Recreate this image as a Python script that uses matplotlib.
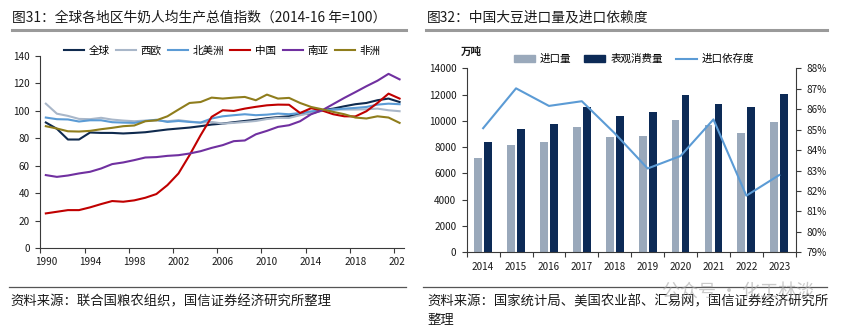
import matplotlib
matplotlib.use("Agg")
import matplotlib.pyplot as plt
from matplotlib.lines import Line2D
from matplotlib.patches import Patch
from matplotlib.transforms import Bbox
import numpy as np

plt.rcParams['font.family'] = ['Noto Sans CJK SC', 'DejaVu Sans']
plt.rcParams['axes.unicode_minus'] = False

# ---------------- data: milk production index (2014-16 = 100) ----------------
years = list(range(1990, 2023))
world = [91.6, 87, 79.2, 79.2, 84.3, 84, 84, 83.6, 84, 84.5, 85.5,
         86.5, 87.2, 87.9, 88.9, 90.1, 90.8, 91.8, 92.7, 93.6, 94.7,
         95.5, 96.1, 97.6, 98.1, 100.5, 101.7, 103.4, 104.9, 105.8, 107.8,
         109, 106.5]
w_europe = [105.3, 98, 96.4, 94.2, 94, 95, 93.7, 93, 92.5, 93, 93,
            92.5, 93.3, 92.3, 91.5, 92, 90.8, 91.3, 92, 92.7, 94.1,
            95, 94.9, 96.9, 98.5, 100, 101, 101, 101, 101.2, 101.7,
            100.5, 99.8]
n_america = [95.2, 94, 93.8, 92.3, 93.2, 93.2, 91.8, 91.5, 91.3, 92.7, 93.6,
             92, 92.7, 92, 91.5, 94.5, 96.1, 96.9, 97.6, 96.9, 97.3,
             98.1, 97.6, 98.5, 99.7, 100.5, 101, 101.7, 102.2, 102.9, 104.6,
             105.3, 104.9]
china = [25.4, 26.6, 27.8, 27.8, 29.8, 32.2, 34.4, 33.9, 34.9, 36.8, 39.5,
         46, 54.5, 67.8, 82.3, 95.7, 100.5, 100, 101.7, 103, 104.1,
         104.6, 104.5, 98.5, 102, 100.3, 97.6, 96.1, 96, 99.8, 105.8,
         112.6, 109]
s_asia = [53.3, 52, 53, 54.5, 55.7, 58.1, 61.3, 62.5, 64.2, 66.1, 66.4,
          67.3, 67.8, 69, 70.7, 73.1, 75.1, 78, 78.5, 83, 85.5,
          88.4, 89.6, 92.5, 97.6, 100.5, 105, 109.5, 113.7, 118, 122,
          127, 123]
africa = [88.9, 87.2, 85.2, 85, 85.5, 86.7, 87.7, 88.9, 89.4, 92.5, 93.2,
          96.1, 101, 105.8, 106.5, 109.7, 109, 109.7, 110.2, 107.8, 111.9,
          109, 109.5, 105.8, 102.9, 101.2, 99.3, 97.6, 95.2, 94.5, 96.1,
          95.2, 91.3]
region_names = ['全球', '西欧', '北美洲', '中国', '南亚', '非洲']
region_colors = ['#0f2a4e', '#a9b7c9', '#5b9bd5', '#c00000', '#7030a0', '#8f7d1c']

# ---------------- data: soybean imports and dependence ----------------
soy_years = ['2014', '2015', '2016', '2017', '2018', '2019', '2020', '2021', '2022', '2023']
imports = [7140, 8169, 8391, 9553, 8803, 8851, 10033, 9652, 9108, 9941]
consumption = [8370, 9382, 9739, 11033, 10348, 10652, 11969, 11261, 11056, 12022]
dependence = [85.07, 87.02, 86.16, 86.39, 84.82, 83.1, 83.71, 85.5, 81.77, 82.78]

W, H = 848, 328
fig = plt.figure(figsize=(W / 100, H / 100), dpi=100)

def fx(px):
    return px / W

def fy(py):
    return 1 - py / H

axis_color = '#3a3a3a'
text_color = '#1a1a1a'
tick_fs = 7.2

# ---------------- headers and footers ----------------
fig.text(fx(12), fy(17), '图31：全球各地区牛奶人均生产总值指数（2014-16 年=100）',
         fontsize=9.9, color=text_color, va='center', ha='left')
fig.text(fx(427), fy(17), '图32：中国大豆进口量及进口依赖度',
         fontsize=9.9, color=text_color, va='center', ha='left')
for x0, x1 in [(12, 406), (426, 827)]:
    fig.add_artist(Line2D([fx(x0), fx(x1)], [fy(30), fy(30)], color='#9a9a9a', lw=2.2))
    fig.add_artist(Line2D([fx(x0 - 3), fx(x1)], [fy(287), fy(287)], color='#555555', lw=0.9))
fig.text(fx(10), fy(301), '资料来源：联合国粮农组织，国信证券经济研究所整理',
         fontsize=9.6, color=text_color, va='center', ha='left')
fig.text(fx(427), fy(301), '资料来源：国家统计局、美国农业部、汇易网，国信证券经济研究所',
         fontsize=9.6, color=text_color, va='center', ha='left')
fig.text(fx(427), fy(320), '整理', fontsize=9.6, color=text_color, va='center', ha='left')
fig.text(fx(662), fy(293), '公众号 · 化工林淡', fontsize=13, color='#a8a8a8',
         alpha=0.6, va='center', ha='left')

# ---------------- left panel: index lines ----------------
ax1 = fig.add_axes([fx(40.3), fy(248.3), fx(404 - 40.3), (248.3 - 56) / H])
series = [world, w_europe, n_america, china, s_asia, africa]
for vals, name, col in zip(series, region_names, region_colors):
    ax1.plot(years, vals, color=col, lw=1.5, label=name)
ax1.set_xlim(1989.5, 2022.4)
ax1.set_ylim(0, 140)
ax1.set_yticks(np.arange(0, 141, 20))
ax1.set_xticks(np.arange(1989.5, 2022, 4))
ax1.set_xticklabels([])
ax1.set_xticks(years[::4], minor=True)
ax1.set_xticklabels([str(y) for y in years[::4]], minor=True)
ax1.tick_params(axis='x', which='major', direction='out', length=3.5, color=axis_color, width=0.8)
ax1.tick_params(axis='x', which='minor', length=0, pad=6, labelsize=tick_fs, labelcolor=text_color)
ax1.tick_params(axis='y', direction='out', length=3.5, color=axis_color, width=0.8,
                labelsize=tick_fs, labelcolor=text_color, pad=4)
for s in ['top', 'right']:
    ax1.spines[s].set_visible(False)
for s in ['left', 'bottom']:
    ax1.spines[s].set_color(axis_color)
    ax1.spines[s].set_linewidth(0.8)
ax1.legend(loc='center', bbox_to_anchor=(fx(222), fy(51)), bbox_transform=fig.transFigure,
           ncol=6, frameon=False, fontsize=7.6, handlelength=1.9, handletextpad=0.45,
           columnspacing=0.6, borderpad=0)

clip = Bbox.from_extents(0, 0, 405, H)
fig.canvas.draw()
for lab in ax1.xaxis.get_minorticklabels():
    lab.set_clip_box(clip)
    lab.set_clip_on(True)

# ---------------- right panel: soybean bars + dependence line ----------------
ax2 = fig.add_axes([fx(466.7), fy(252.3), fx(795.7 - 466.7), (252.3 - 68.3) / H])
pos = np.arange(len(soy_years))
bw = 0.235
off = 0.152
ax2.bar(pos - off, imports, width=bw, color='#9aa9bb', label='进口量')
ax2.bar(pos + off, consumption, width=bw, color='#0c2a56', label='表观消费量')
ax2.set_xlim(-0.5, len(soy_years) - 0.5)
ax2.set_ylim(0, 14000)
ax2.set_yticks(np.arange(0, 14001, 2000))
ax2.set_xticks(np.arange(-0.5, len(soy_years), 1))
ax2.set_xticklabels([])
ax2.set_xticks(pos, minor=True)
ax2.set_xticklabels(soy_years, minor=True)
ax2.tick_params(axis='x', which='major', direction='out', length=3.5, color=axis_color, width=0.8)
ax2.tick_params(axis='x', which='minor', length=0, pad=7, labelsize=tick_fs, labelcolor=text_color)
ax2.tick_params(axis='y', direction='out', length=3.5, color=axis_color, width=0.8,
                labelsize=tick_fs, labelcolor=text_color, pad=4)
for s in ['top', 'right']:
    ax2.spines[s].set_visible(False)
for s in ['left', 'bottom']:
    ax2.spines[s].set_color(axis_color)
    ax2.spines[s].set_linewidth(0.8)

ax3 = ax2.twinx()
ax3.plot(pos, dependence, color='#5b9bd5', lw=1.5, label='进口依存度')
ax3.set_ylim(79, 88)
ax3.set_yticks(np.arange(79, 88.1, 1))
ax3.set_yticklabels([f'{v}%' for v in range(79, 89)])
ax3.tick_params(axis='y', direction='out', length=3.5, color=axis_color, width=0.8,
                labelsize=tick_fs, labelcolor=text_color, pad=4)
for s in ['top', 'left', 'bottom']:
    ax3.spines[s].set_visible(False)
ax3.spines['right'].set_color(axis_color)
ax3.spines['right'].set_linewidth(0.8)

fig.text(fx(471), fy(52), '万吨', fontsize=7.6, fontweight='bold', color=text_color,
         ha='center', va='center')
handles = [Patch(color='#9aa9bb'), Patch(color='#0c2a56'), Line2D([], [], color='#5b9bd5', lw=1.5)]
labels = ['进口量', '表观消费量', '进口依存度']
ax3.legend(handles, labels, loc='center', bbox_to_anchor=(fx(634), fy(59)),
           bbox_transform=fig.transFigure, ncol=3, frameon=False, fontsize=7.6,
           handlelength=2.0, handleheight=0.6, handletextpad=0.5, columnspacing=1.2,
           borderpad=0)

fig.savefig('out.png', dpi=100)
